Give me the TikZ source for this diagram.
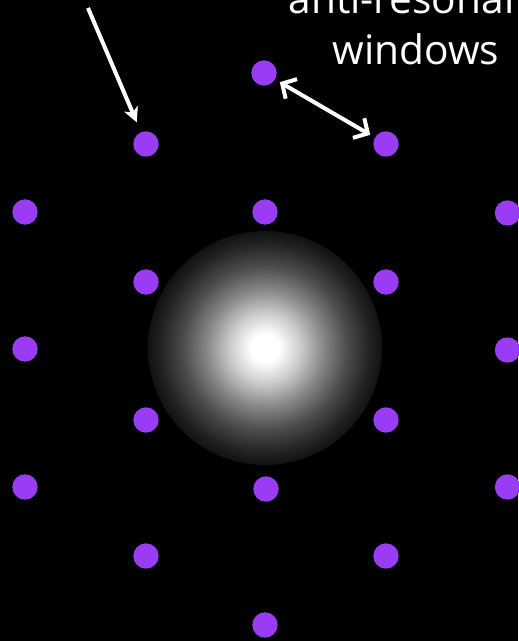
\documentclass[tikz,border=0pt]{standalone}
\usepackage{fontspec}
\setmainfont{Open Sans}
\usetikzlibrary{arrows.meta}
\definecolor{dotpurple}{RGB}{155,60,245}
\pgfdeclareradialshading{glow}{\pgfpoint{0bp}{0bp}}{rgb(0bp)=(1,1,1); rgb(3bp)=(1,1,1); rgb(7.5bp)=(0.8,0.8,0.8); rgb(12.5bp)=(0.53,0.53,0.53); rgb(17.5bp)=(0.3,0.3,0.3); rgb(22.5bp)=(0.13,0.13,0.13); rgb(25bp)=(0.07,0.07,0.07); rgb(50bp)=(0.07,0.07,0.07)}
\begin{document}
\begin{tikzpicture}[x=0.75pt,y=-0.75pt,
  dot/.style={circle,fill=dotpurple,inner sep=0pt,minimum size=19pt},
  lbl/.style={text=white,font=\fontsize{30.5}{36}\selectfont,anchor=base,inner sep=0pt},
  arr/.style={draw=white,line width=3pt}]
\fill[black] (0,0) rectangle (518,641);
\useasboundingbox (0,0) rectangle (518,641);
% glow
\shade[shading=glow] (265,348) circle (117);
% dots
\node[dot] (d1) at (264,73) {};
\node[dot] (d2) at (146,144) {};
\node[dot] (d3) at (386,144) {};
\node[dot] (d4) at (25,212) {};
\node[dot] (d5) at (265,212) {};
\node[dot] (d6) at (507.5,213) {};
\node[dot] (d7) at (146,282) {};
\node[dot] (d8) at (386,282) {};
\node[dot] (d9) at (25,349) {};
\node[dot] (d10) at (507.5,350) {};
\node[dot] (d11) at (146,420) {};
\node[dot] (d12) at (386,420) {};
\node[dot] (d13) at (25,487) {};
\node[dot] (d14) at (266,489) {};
\node[dot] (d15) at (507.5,487) {};
\node[dot] (d16) at (146,556) {};
\node[dot] (d17) at (386,556) {};
\node[dot] (d18) at (265,625) {};
% labels
\node[lbl] (l1) at (416,14) {anti-resonant};
\node[lbl] (l2) at (416,65) {windows};
% arrows
\coordinate (s1) at (88,8);
\draw[arr,-{Stealth[length=11pt,width=11pt,inset=3pt]},shorten >=8pt] (s1) -- (d2);
\draw[arr,{Straight Barb[length=8pt,width=17pt]}-{Straight Barb[length=8pt,width=17pt]},shorten <=4pt,shorten >=4pt] (d1) -- (d3);
\end{tikzpicture}
\end{document}
